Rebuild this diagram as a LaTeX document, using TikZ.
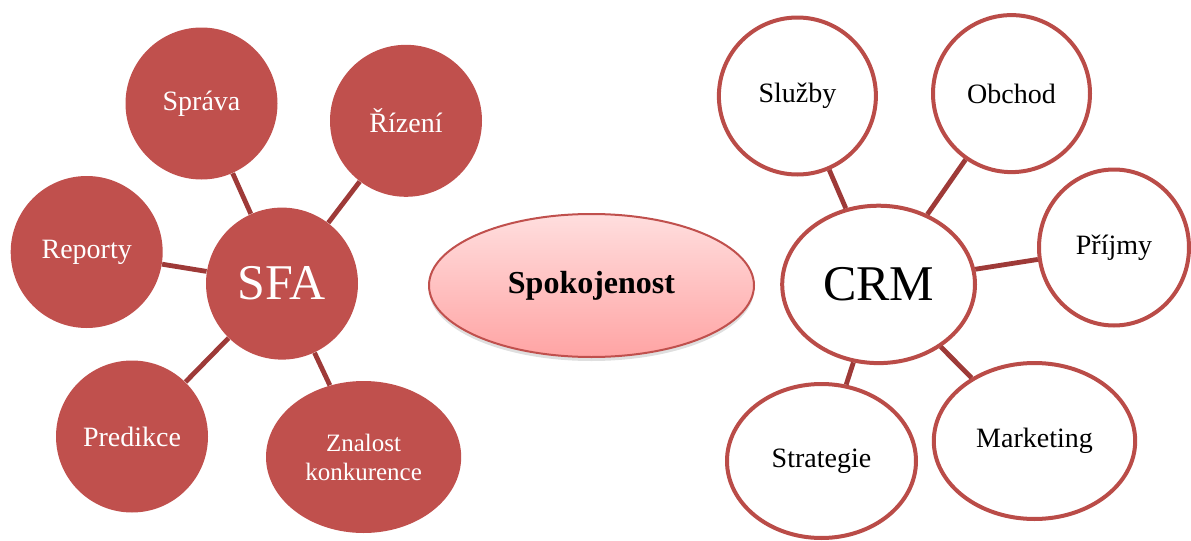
\documentclass[tikz,border=0pt]{standalone}
\usepackage{fontspec}
\setmainfont{Liberation Serif}
\usetikzlibrary{shapes.geometric,shadows}
\definecolor{sfared}{HTML}{C0504D}
\definecolor{ringred}{HTML}{BA4C48}
\definecolor{connred}{HTML}{9E3A38}
\definecolor{pinktop}{HTML}{FFDEDE}
\definecolor{pinkbot}{HTML}{FFA4A4}
\tikzset{
  sfanode/.style={ellipse,fill=sfared,text=white,inner sep=0pt,font=\fontsize{14}{16}\selectfont},
  crmnode/.style={ellipse,draw=ringred,line width=2pt,fill=white,text=black,inner sep=0pt,font=\fontsize{14}{16}\selectfont},
  conn/.style={draw=connred,line width=2.4pt},
}
\begin{document}
\begin{tikzpicture}[x=0.5pt,y=-0.5pt]
\useasboundingbox (0,0) rectangle (1191,541);
% left cluster
\node[sfanode,minimum width=76pt,minimum height=76pt,font=\fontsize{25}{28}\selectfont] (sfa) at (282,283.6) {SFA};
\node[sfanode,minimum width=76pt,minimum height=76pt] (sprava) at (201.5,103.5) {Správa};
\node[sfanode,minimum width=76pt,minimum height=76pt] (rizeni) at (406,120.8) {Řízení};
\node[sfanode,minimum width=76pt,minimum height=76pt] (reporty) at (86.7,252) {Reporty};
\node[sfanode,minimum width=76pt,minimum height=76pt] (predikce) at (132,436.5) {Predikce};
\node[sfanode,minimum width=97.6pt,minimum height=76pt,align=center,font=\fontsize{12.5}{14.5}\selectfont] (znalost) at (363.6,457) {Znalost\\konkurence};
\draw[conn] (sprava) -- (sfa);
\draw[conn] (rizeni) -- (sfa);
\draw[conn] (reporty) -- (sfa);
\draw[conn] (predikce) -- (sfa);
\draw[conn] (znalost) -- (sfa);
% middle
\node[ellipse,draw=sfared,line width=1pt,top color=pinktop,bottom color=pinkbot,minimum width=162.5pt,minimum height=71.5pt,inner sep=0pt,font=\fontsize{16}{18}\selectfont\bfseries,drop shadow={opacity=0.25,shadow xshift=0pt,shadow yshift=-2pt}] (spok) at (591.5,285.5) {Spokojenost};
% right cluster
\node[crmnode,minimum width=96.4pt,minimum height=78.7pt,font=\fontsize{25}{28}\selectfont] (crm) at (878.6,284.4) {CRM};
\node[crmnode,minimum width=78.5pt,minimum height=78.5pt] (sluzby) at (797.4,96) {Služby};
\node[crmnode,minimum width=78.5pt,minimum height=78.5pt] (obchod) at (1011.5,93.6) {Obchod};
\node[crmnode,minimum width=75pt,minimum height=78pt] (prijmy) at (1114,247.5) {Příjmy};
\node[crmnode,minimum width=94.5pt,minimum height=77pt] (strategie) at (821.5,461) {Strategie};
\node[crmnode,minimum width=100.7pt,minimum height=78pt] (marketing) at (1034.5,441) {Marketing};
\draw[conn] (sluzby) -- (crm);
\draw[conn] (obchod) -- (crm);
\draw[conn] (prijmy) -- (crm);
\draw[conn] (strategie) -- (crm);
\draw[conn] (marketing) -- (crm);
\end{tikzpicture}
\end{document}
